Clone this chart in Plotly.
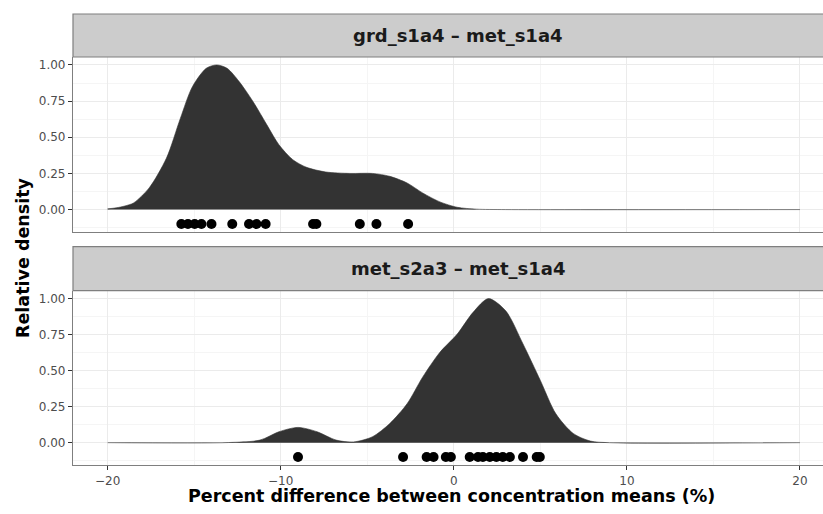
import plotly.graph_objects as go
from plotly.subplots import make_subplots

# ---- data ----
panel_titles = ["grd_s1a4 \u2013 met_s1a4", "met_s2a3 \u2013 met_s1a4"]

d1_x = [-20, -19.5, -19, -18.5, -17.6, -16.6, -15.8, -15.1, -14.3, -13.7, -13.1, -12.4, -11.6,
        -10.8, -10.1, -9.3, -8.5, -7.4, -6.0, -4.7, -3.7, -2.7, -1.8, -0.8, 0.2, 1.3, 3.0, 20]
d1_y = [0.005, 0.012, 0.025, 0.046, 0.15, 0.356, 0.63, 0.85, 0.977, 1.0, 0.977, 0.885, 0.747,
        0.586, 0.448, 0.345, 0.292, 0.26, 0.25, 0.25, 0.23, 0.184, 0.115, 0.053, 0.016, 0.003, 0.0, 0.0]

d2_x = [-20, -13, -11.2, -10.1, -9.0, -7.9, -6.8, -5.8, -4.7, -3.7, -2.7, -1.8, -0.8, 0.2,
        1.1, 2.0, 3.0, 4.0, 5.0, 5.9, 6.9, 7.9, 9.0, 20]
d2_y = [0.0, 0.001, 0.018, 0.076, 0.106, 0.076, 0.018, 0.005, 0.041, 0.133, 0.27, 0.455, 0.628,
        0.754, 0.903, 1.0, 0.915, 0.685, 0.432, 0.2, 0.064, 0.011, 0.0, 0.0]

pts1 = [-15.74, -15.36, -14.97, -14.58, -14.0, -12.8, -11.83, -11.4, -10.87, -8.13, -7.94,
        -5.43, -4.47, -2.64]
pts2 = [-9.0, -2.93, -1.57, -1.17, -0.46, -0.17, 0.92, 1.40, 1.68, 2.08, 2.46, 2.83, 3.24,
        4.0, 4.79, 4.97]
pt_level = -0.1

x_ticks = [-20, -10, 0, 10, 20]
y_ticks = [0, 0.25, 0.5, 0.75, 1.0]

# ---- figure ----
FONT = "DejaVu Sans, Liberation Sans, Arial, sans-serif"
fig = make_subplots(rows=2, cols=1, shared_xaxes=True)

for r, (dx, dy, pts) in enumerate([(d1_x, d1_y, pts1), (d2_x, d2_y, pts2)], start=1):
    fig.add_trace(go.Scatter(x=dx, y=dy, mode="lines", fill="tozeroy",
                             fillcolor="#333333",
                             line=dict(color="#333333", width=0.6, shape="spline", smoothing=0.8),
                             showlegend=False, hoverinfo="skip"), row=r, col=1)
    fig.add_trace(go.Scatter(x=pts, y=[pt_level] * len(pts), mode="markers",
                             marker=dict(color="black", size=10),
                             showlegend=False), row=r, col=1)

H = 451.0
def py(pix):
    return (465.0 - pix) / H

dom1 = [py(232), py(57)]
dom2 = [0, py(290.7)]
strip1 = [py(57), 1.0]
strip2 = [py(290.7), py(246.7)]

tickfont = dict(family=FONT, size=12, color="#4D4D4D")
grid = dict(showgrid=True, gridcolor="#EBEBEB", gridwidth=1)
minor_x = dict(dtick=5, tick0=0, showgrid=True, gridcolor="#F5F5F5", gridwidth=0.6, ticks="")
minor_y = dict(dtick=0.125, tick0=0, showgrid=True, gridcolor="#F5F5F5", gridwidth=0.6, ticks="")

xcommon = dict(range=[-22, 21.33], tickvals=x_ticks, ticktext=["\u221220", "\u221210", "0", "10", "20"],
               zeroline=False, showline=True, linecolor="#7F7F7F", linewidth=1.2,
               minor=minor_x, tickfont=tickfont, **grid)
ycommon = dict(range=[-0.155, 1.055], tickvals=y_ticks, tickformat=".2f",
               zeroline=False, showline=True, linecolor="#7F7F7F", linewidth=1.2,
               ticks="outside", ticklen=4, tickcolor="#333333", tickwidth=1,
               minor=minor_y, tickfont=tickfont, **grid)

fig.update_layout(
    width=823, height=514,
    margin=dict(l=73, r=0, t=14, b=49),
    plot_bgcolor="white", paper_bgcolor="white",
    xaxis=dict(domain=[0, 1], showticklabels=False, ticks="", **xcommon),
    xaxis2=dict(domain=[0, 1], ticks="outside", ticklen=4, tickcolor="#333333", tickwidth=1,
                **xcommon),
    yaxis=dict(domain=dom1, **ycommon),
    yaxis2=dict(domain=dom2, **ycommon),
    font=dict(family=FONT),
)
fig.update_xaxes(matches="x")

# strips
for (y0, y1), title in zip([strip1, strip2], panel_titles):
    fig.add_shape(type="rect", xref="paper", yref="paper", x0=0, x1=1.02, y0=y0, y1=y1,
                  fillcolor="#CCCCCC", line=dict(color="#7F7F7F", width=1.2), layer="above")
    fig.add_annotation(xref="x", yref="paper", x=0.25, y=(y0 + y1) / 2, text="<b>%s</b>" % title,
                       showarrow=False, font=dict(family=FONT, size=18, color="#1A1A1A"),
                       xanchor="center", yanchor="middle")

# axis titles
fig.add_annotation(xref="x", yref="paper", x=-0.12, y=py(496), yanchor="middle",
                   text="<b>Percent difference between concentration means (%)</b>",
                   showarrow=False, font=dict(family=FONT, size=17.5, color="black"))
fig.add_annotation(xref="paper", yref="paper", x=(23 - 73) / 750, y=py(258), xanchor="center",
                   yanchor="middle", textangle=-90, text="<b>Relative density</b>",
                   showarrow=False, font=dict(family=FONT, size=17.5, color="black"))

fig.write_html("out.html")
